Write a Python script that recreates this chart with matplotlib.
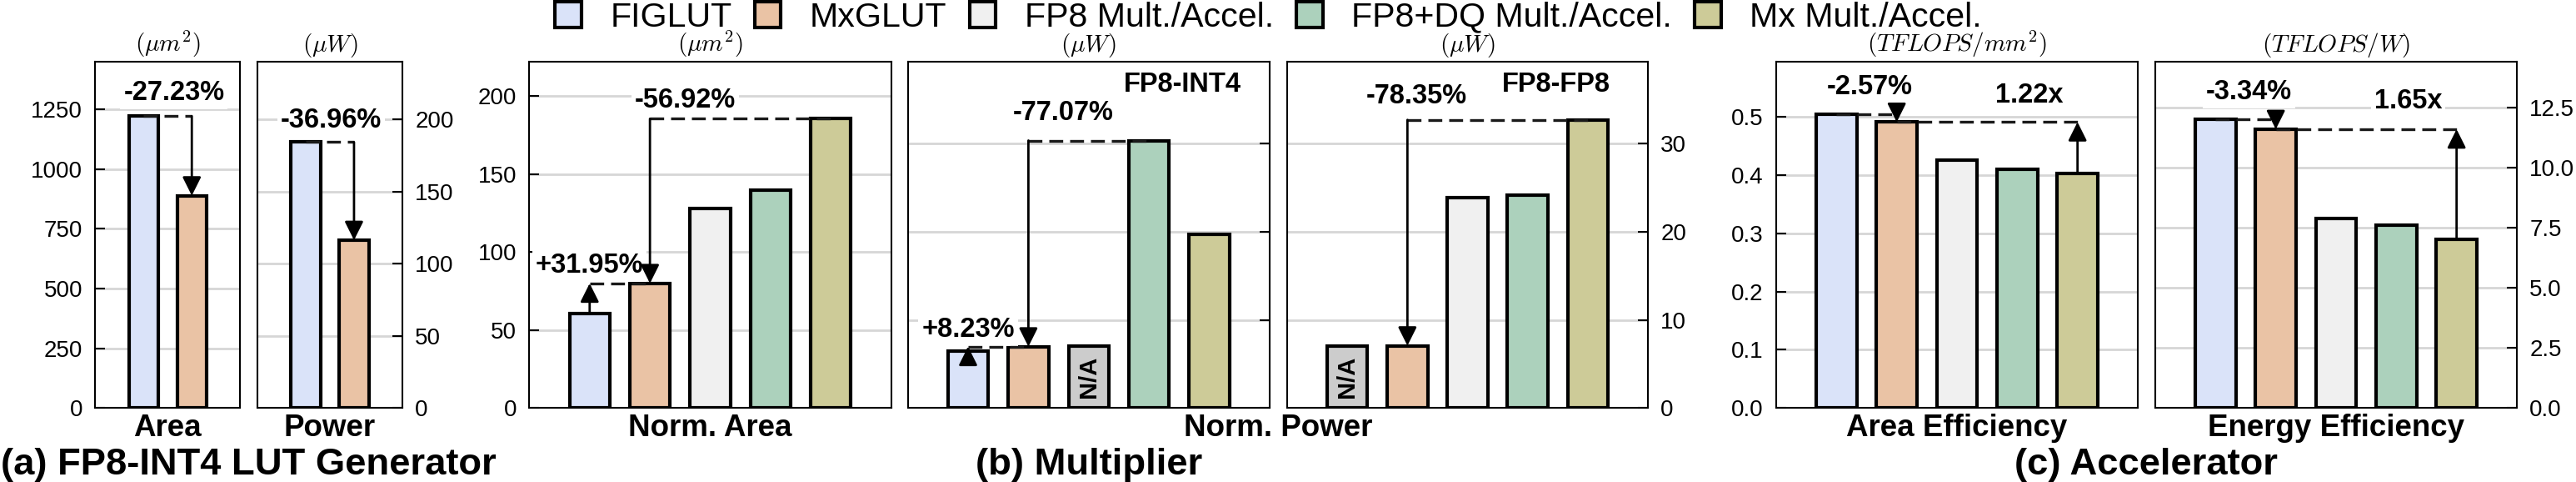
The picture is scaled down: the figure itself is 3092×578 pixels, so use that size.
import matplotlib
matplotlib.use('Agg')
import matplotlib.pyplot as plt
from matplotlib.patches import Patch
from matplotlib.ticker import FormatStrFormatter

plt.rcParams['font.family'] = ['Liberation Sans', 'DejaVu Sans']
plt.rcParams['mathtext.fontset'] = 'cm'

# ---------------- data ----------------
series = ['FIGLUT', 'MxGLUT', 'FP8 Mult./Accel.', 'FP8+DQ Mult./Accel.', 'Mx Mult./Accel.']
colors = ['#dae3f9', '#eac3a5', '#f0f0f0', '#acd1bc', '#cdcb98']
na_color = '#cccccc'

lut_area = [1222, 889]            # um^2  (FIGLUT, MxGLUT)
lut_power = [184.2, 116.3]        # uW
mult_area = [60.5, 79.9, 128.1, 139.4, 185.4]
mult_power_int4 = [6.43, 6.96, None, 30.35, 19.67]
mult_power_fp8 = [None, 7.07, 23.87, 24.12, 32.69]
na_height = 7.05
acc_area_eff = [0.5042, 0.4912, 0.4257, 0.4098, 0.4034]
acc_energy_eff = [11.99, 11.59, 7.88, 7.61, 7.01]

lut_ticks_area = [0, 250, 500, 750, 1000, 1250]
lut_ticks_power = [0, 50, 100, 150, 200]
mult_ticks_area = [0, 50, 100, 150, 200]
mult_ticks_power = [0, 10, 20, 30]
acc_ticks_area = [0.0, 0.1, 0.2, 0.3, 0.4, 0.5]
acc_ticks_energy = [0.0, 2.5, 5.0, 7.5, 10.0, 12.5]

# ---------------- layout ----------------
W, H = 3092, 578
DPI = 100
fig = plt.figure(figsize=(W / DPI, H / DPI), dpi=DPI)

AX_TOP, AX_BOT = 73.9, 489.3
def add_ax(x0, x1):
    return fig.add_axes([x0 / W, (H - AX_BOT) / H, (x1 - x0) / W, (AX_BOT - AX_TOP) / H])

BAR_LW = 3.0
SPINE_LW = 1.5
GRID_C = '#d6d6d6'

def style(ax, xlim, ylim, yticks, side='left', labels=True, fmt=None):
    ax.set_xlim(*xlim)
    ax.set_ylim(0, ylim)
    ax.set_yticks(yticks)
    if fmt:
        ax.yaxis.set_major_formatter(FormatStrFormatter(fmt))
    ax.yaxis.grid(True, color=GRID_C, lw=2.0)
    ax.set_axisbelow(True)
    if side == 'right':
        ax.yaxis.tick_right()
    ax.tick_params(axis='y', direction='in', length=8.5, width=1.5, labelsize=20, pad=11,
                   labelleft=(labels and side == 'left'), labelright=(labels and side == 'right'))
    ax.set_xticks([])
    for s in ax.spines.values():
        s.set_linewidth(SPINE_LW)

def bars(ax, vals, width, cols):
    for i, v in enumerate(vals):
        if v is None:
            ax.bar(i, na_height, width, color=na_color, edgecolor='black', lw=BAR_LW, zorder=3)
            ax.text(i, na_height / 2, 'N/A', rotation=90, ha='center', va='center',
                    fontweight='bold', fontsize=21, zorder=4)
        else:
            ax.bar(i, v, width, color=cols[i], edgecolor='black', lw=BAR_LW, zorder=3)

def dashed(ax, x0, x1, y):
    ax.plot([x0, x1], [y, y], color='#1a1a1a', lw=2.4, ls=(0, (5, 2.5)), zorder=8,
            solid_capstyle='butt', dash_capstyle='butt')

def arrow(ax, x, y0, y1):
    ax.annotate('', xy=(x, y1), xytext=(x, y0),
                arrowprops=dict(arrowstyle='-|>,head_length=0.8,head_width=0.4',
                                mutation_scale=17, lw=2.0, color='black',
                                shrinkA=0, shrinkB=0), zorder=9)

def note(ax, x, y, s, **kw):
    ax.text(x, y, s, ha='center', va='baseline', fontsize=23.5, fontweight='bold', zorder=7,
            bbox=dict(boxstyle='square,pad=0.12', facecolor='white', edgecolor='none'), **kw)

def unit(ax, s):
    ax.text(0.5, 1.006, s, transform=ax.transAxes, ha='center', va='bottom', fontsize=21)

# ---- (a) LUT generator ----
ax_a1 = add_ax(114.3, 288.2)
bars(ax_a1, lut_area, 0.61, colors)
style(ax_a1, (-1, 2), 1450, lut_ticks_area, 'left')
unit(ax_a1, r'$(\mu m^2)$')
dashed(ax_a1, 0, 1, lut_area[0])
arrow(ax_a1, 1, lut_area[0], lut_area[1])
note(ax_a1, 0.632, 1289, '-27.23%')

ax_a2 = add_ax(309.0, 482.9)
bars(ax_a2, lut_power, 0.61, colors)
style(ax_a2, (-1, 2), 240, lut_ticks_power, 'right')
unit(ax_a2, r'$(\mu W)$')
dashed(ax_a2, 0, 1, lut_power[0])
arrow(ax_a2, 1, lut_power[0], lut_power[1])
note(ax_a2, 0.523, 194.2, '-36.96%')

# ---- (b) multiplier ----
ax_b1 = add_ax(635.4, 1069.6)
bars(ax_b1, mult_area, 0.67, colors)
style(ax_b1, (-1, 5), 222, mult_ticks_area, 'left')
unit(ax_b1, r'$(\mu m^2)$')
dashed(ax_b1, 0, 1, mult_area[1])
arrow(ax_b1, 0, mult_area[0], mult_area[1])
note(ax_b1, 0.0, 86.8, '+31.95%')
dashed(ax_b1, 1, 4, mult_area[4])
arrow(ax_b1, 1, mult_area[4], mult_area[1])
note(ax_b1, 1.58, 192.8, '-56.92%')

ax_b2 = add_ax(1089.6, 1524.0)
bars(ax_b2, mult_power_int4, 0.67, colors)
style(ax_b2, (-1, 5), 39.3, mult_ticks_power, 'right', labels=False)
unit(ax_b2, r'$(\mu W)$')
dashed(ax_b2, 0, 1, mult_power_int4[1])
arrow(ax_b2, 0, mult_power_int4[0], mult_power_int4[1])
note(ax_b2, 0.0, 8.1, '+8.23%')
dashed(ax_b2, 1, 3, mult_power_int4[3])
arrow(ax_b2, 1, mult_power_int4[3], mult_power_int4[1])
note(ax_b2, 1.58, 32.67, '-77.07%')
ax_b2.text(0.758, 0.913, 'FP8-INT4', transform=ax_b2.transAxes, ha='center', va='baseline',
           fontsize=23.5, fontweight='bold')

ax_b3 = add_ax(1545.0, 1978.0)
bars(ax_b3, mult_power_fp8, 0.67, colors)
style(ax_b3, (-1, 5), 39.3, mult_ticks_power, 'right')
unit(ax_b3, r'$(\mu W)$')
dashed(ax_b3, 1, 4, mult_power_fp8[4])
arrow(ax_b3, 1, mult_power_fp8[4], mult_power_fp8[1])
note(ax_b3, 1.148, 34.56, '-78.35%')
ax_b3.text(0.745, 0.913, 'FP8-FP8', transform=ax_b3.transAxes, ha='center', va='baseline',
           fontsize=23.5, fontweight='bold')

# ---- (c) accelerator ----
ax_c1 = add_ax(2132.0, 2566.0)
bars(ax_c1, acc_area_eff, 0.67, colors)
style(ax_c1, (-1, 5), 0.595, acc_ticks_area, 'left', fmt='%.1f')
unit(ax_c1, r'$(TFLOPS/mm^2)$')
dashed(ax_c1, 0, 1, acc_area_eff[0])
arrow(ax_c1, 1, acc_area_eff[0], acc_area_eff[1])
note(ax_c1, 0.557, 0.5395, '-2.57%')
dashed(ax_c1, 1, 4, acc_area_eff[1])
arrow(ax_c1, 4, acc_area_eff[4], acc_area_eff[1])
note(ax_c1, 3.2, 0.5251, '1.22x')

ax_c2 = add_ax(2587.0, 3021.0)
bars(ax_c2, acc_energy_eff, 0.67, colors)
style(ax_c2, (-1, 5), 14.4, acc_ticks_energy, 'right', fmt='%.1f')
unit(ax_c2, r'$(TFLOPS/W)$')
dashed(ax_c2, 0, 1, acc_energy_eff[0])
arrow(ax_c2, 1, acc_energy_eff[0], acc_energy_eff[1])
note(ax_c2, 0.55, 12.83, '-3.34%')
dashed(ax_c2, 1, 4, acc_energy_eff[1])
arrow(ax_c2, 4, acc_energy_eff[4], acc_energy_eff[1])
note(ax_c2, 3.2, 12.45, '1.65x')

# ---- x labels ----
XL_Y = (H - 523) / H
for xc, s in [(201.3, 'Area'), (396.0, 'Power'), (852.5, 'Norm. Area'), (1533.8, 'Norm. Power'),
              (2349.0, 'Area Efficiency'), (2804.0, 'Energy Efficiency')]:
    fig.text(xc / W, XL_Y, s, ha='center', va='baseline', fontsize=26.5, fontweight='bold')

# ---- panel titles ----
T_Y = (H - 569) / H
for xc, s in [(298.6, '(a) FP8-INT4 LUT Generator'), (1306.7, '(b) Multiplier'),
              (2576.5, '(c) Accelerator')]:
    fig.text(xc / W, T_Y, s, ha='center', va='baseline', fontsize=32.7, fontweight='bold')

# ---- legend ----
handles = [Patch(facecolor=c, edgecolor='black', lw=3.0) for c in colors]
fig.legend(handles, series, loc='upper left', bbox_to_anchor=(666 / W, 0.997), ncol=5,
           frameon=False, fontsize=29.6, handlelength=0.77, handleheight=0.77,
           handletextpad=0.84, columnspacing=0.66, borderpad=0, borderaxespad=0)

fig.savefig('out.png', dpi=DPI)
